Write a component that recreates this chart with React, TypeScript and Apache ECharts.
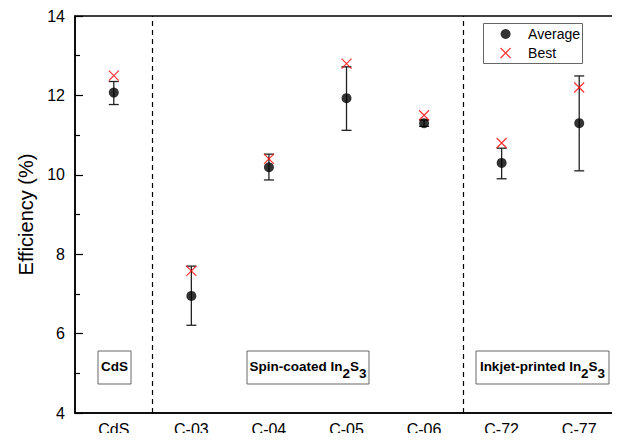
import React, { useEffect, useRef } from "react";
import * as echarts from "echarts";

const categories = ["CdS", "C-03", "C-04", "C-05", "C-06", "C-72", "C-77"];
const average = [12.07, 6.95, 10.19, 11.93, 11.3, 10.3, 11.3];
const errLow = [11.77, 6.21, 9.87, 11.12, 11.22, 9.9, 10.1];
const errHigh = [12.35, 7.7, 10.52, 12.72, 11.38, 10.67, 12.49];
const best = [12.5, 7.58, 10.4, 12.8, 11.5, 10.8, 12.2];
const separators = [0.5, 4.5];
const yTicks = { min: 4, max: 14, interval: 2 };

const FONT = "'Liberation Sans', Arial, sans-serif";
const X_PATH = "path://M0,0L10,10M10,0L0,10";

export default function App() {
  const ref = useRef<HTMLDivElement>(null);
  useEffect(() => {
    const chart = echarts.init(ref.current!, null, { renderer: "svg" });
    const box = (x: number, y: number, w: number, h: number, text: string) => ({
      type: "group",
      children: [
        {
          type: "rect",
          shape: { x, y, width: w, height: h },
          style: { fill: "#fff", stroke: "#666", lineWidth: 1 },
        },
        {
          type: "text",
          x: x + w / 2,
          y: y + h / 2 - 1,
          style: {
            text,
            align: "center",
            verticalAlign: "middle",
            fontFamily: FONT,
            fontWeight: "bold",
            fontSize: 13.5,
            fill: "#000",
            rich: {
              s: {
                fontFamily: FONT,
                fontWeight: "bold",
                fontSize: 13.5,
                fill: "#000",
                padding: [14, 0, 0, 0],
              },
            },
          },
        },
      ],
    });
    chart.setOption({
      animation: false,
      backgroundColor: "#fff",
      grid: {
        left: 75,
        right: 2,
        top: 16,
        bottom: 28,
        show: true,
        borderColor: "#000",
        borderWidth: 1.5,
        backgroundColor: "transparent",
      },
      legend: {
        orient: "vertical",
        left: 483,
        top: 23,
        padding: [4, 0, 3, 17],
        itemWidth: 35,
        itemHeight: 10,
        itemGap: 5,
        textStyle: { fontFamily: FONT, fontSize: 14, lineHeight: 14, color: "#000" },
        data: [
          { name: "Average", icon: "circle" },
          {
            name: "Best",
            icon: X_PATH,
            itemStyle: { color: "transparent", borderColor: "#ff0000", borderWidth: 1.2 },
          },
        ],
      },
      xAxis: [
        {
          type: "category",
          data: categories,
          boundaryGap: true,
          axisLine: { lineStyle: { color: "#000", width: 1.5 } },
          axisTick: { inside: true, length: 8, alignWithLabel: true, lineStyle: { color: "#000", width: 1.2 } },
          axisLabel: { fontFamily: FONT, fontSize: 16, color: "#000", margin: 8 },
          splitLine: { show: false },
        },
        {
          type: "value",
          min: -0.5,
          max: 6.5,
          show: false,
          splitLine: { show: false },
        },
      ],
      yAxis: {
        type: "value",
        min: yTicks.min,
        max: yTicks.max,
        interval: yTicks.interval,
        name: "Efficiency (%)",
        nameLocation: "middle",
        nameGap: 38,
        nameTextStyle: { fontFamily: FONT, fontSize: 20, color: "#000" },
        axisLine: { show: true, onZero: false, lineStyle: { color: "#000", width: 1.5 } },
        axisTick: { show: true, inside: true, length: 8, lineStyle: { color: "#000", width: 1.2 } },
        minorTick: { show: true, splitNumber: 2, length: 5, lineStyle: { color: "#000", width: 1.2 } },
        axisLabel: { fontFamily: FONT, fontSize: 16, color: "#000", margin: 10 },
        splitLine: { show: false },
      },
      graphic: [
        box(98, 351, 33, 33, "CdS"),
        box(247, 351, 122, 33, "Spin-coated In{s|2}S{s|3}"),
        box(476, 351, 133, 33, "Inkjet-printed In{s|2}S{s|3}"),
        {
          type: "rect",
          shape: { x: 483.5, y: 23.5, width: 99, height: 40 },
          style: { fill: "#fff", stroke: "#666", lineWidth: 1 },
          z: 0,
        },
      ],
      series: [
        {
          type: "scatter",
          xAxisIndex: 1,
          data: [],
          silent: true,
          markLine: {
            silent: true,
            symbol: "none",
            label: { show: false },
            lineStyle: { color: "#000", width: 1.2, type: [5, 4] },
            data: separators.map((v) => ({ xAxis: v })),
          },
        },
        {
          type: "custom",
          name: "err",
          data: categories.map((_, i) => [i, errLow[i], errHigh[i]]),
          encode: { x: 0, y: [1, 2] },
          renderItem: (_p: any, api: any) => {
            const x = api.value(0);
            const lo = api.coord([x, api.value(1)]);
            const hi = api.coord([x, api.value(2)]);
            const w = 5;
            const st = { stroke: "#222", lineWidth: 1.3 };
            return {
              type: "group",
              children: [
                { type: "line", shape: { x1: lo[0], y1: lo[1], x2: hi[0], y2: hi[1] }, style: st },
                { type: "line", shape: { x1: lo[0] - w, y1: lo[1], x2: lo[0] + w, y2: lo[1] }, style: st },
                { type: "line", shape: { x1: hi[0] - w, y1: hi[1], x2: hi[0] + w, y2: hi[1] }, style: st },
              ],
            };
          },
          z: 2,
        },
        {
          type: "scatter",
          name: "Average",
          data: average,
          symbol: "circle",
          symbolSize: 10,
          itemStyle: { color: "#000" },
          z: 3,
        },
        {
          type: "scatter",
          name: "Best",
          data: best,
          symbol: X_PATH,
          symbolSize: 10,
          itemStyle: { color: "transparent", borderColor: "#ff0000", borderWidth: 1.2 },
          z: 4,
        },
      ],
    });
    return () => chart.dispose();
  }, []);
  return <div ref={ref} style={{ width: 620, height: 441, margin: -8 }} />;
}
